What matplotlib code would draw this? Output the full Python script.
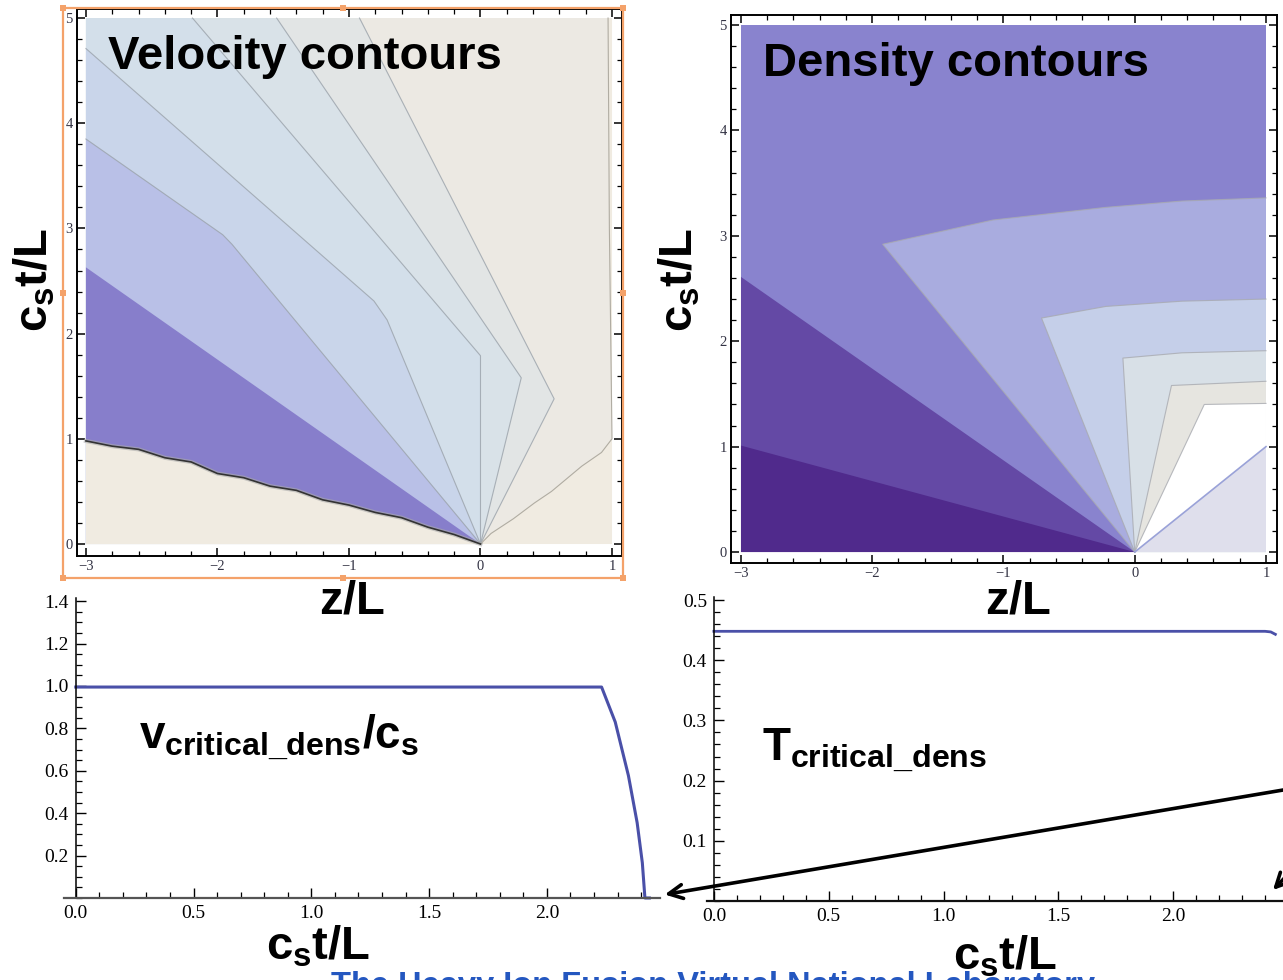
import matplotlib.pyplot as plt
from matplotlib.patches import Rectangle
from matplotlib.ticker import MultipleLocator, FormatStrFormatter

# domain of both contour maps (z/L, c_s t/L)
domain_z = [-3.0, 1.0]
domain_t = [0.0, 5.0]

# velocity contours: boundaries, each one runs into the origin
vel_jag_z = [-3.0, -2.8, -2.6, -2.4, -2.2, -2.0, -1.8, -1.6, -1.4, -1.2, -1.0, -0.8, -0.6, -0.4, -0.2, 0.0]
vel_jag_t = [0.98, 0.93, 0.90, 0.82, 0.78, 0.67, 0.63, 0.55, 0.51, 0.42, 0.37, 0.30, 0.25, 0.16, 0.09, 0.0]
vel_c2_z = [-3.0, 0.0]
vel_c2_t = [2.63, 0.0]
vel_c3_z = [-3.0, -1.96, -1.89, 0.0]
vel_c3_t = [3.85, 2.94, 2.85, 0.0]
vel_c4_z = [-3.0, -0.81, -0.71, 0.0]
vel_c4_t = [4.71, 2.31, 2.13, 0.0]
vel_c5_z = [-2.19, 0.0, 0.0]
vel_c5_t = [5.0, 1.79, 0.0]
vel_c6_z = [-1.55, 0.31, 0.0]
vel_c6_t = [5.0, 1.58, 0.0]
vel_c7_z = [-0.92, 0.56, 0.0]
vel_c7_t = [5.0, 1.38, 0.0]
vel_right_z = [0.0, 0.08, 0.25, 0.41, 0.54, 0.77, 0.92, 1.0, 0.98, 0.97]
vel_right_t = [0.0, 0.10, 0.24, 0.39, 0.50, 0.74, 0.87, 1.0, 3.0, 5.0]
vel_colors = ["#ece9e3", "#e2e5e5", "#d9e2e8", "#d3dfea", "#c9d5ea", "#b9c0e7", "#877ecb", "#f0ebe1"]

# density contours
den_d1_z = [-3.0, 0.0]
den_d1_t = [1.01, 0.0]
den_d2_z = [-3.0, 0.0]
den_d2_t = [2.61, 0.0]
den_c3_z = [0.0, -1.92, -1.08, -0.22, 0.36, 1.0]
den_c3_t = [0.0, 2.92, 3.15, 3.27, 3.33, 3.36]
den_c4_z = [0.0, -0.71, -0.22, 0.36, 1.0]
den_c4_t = [0.0, 2.22, 2.33, 2.38, 2.40]
den_c5_z = [0.0, -0.09, 0.36, 1.0]
den_c5_t = [0.0, 1.84, 1.89, 1.91]
den_c6_z = [0.0, 0.28, 1.0]
den_c6_t = [0.0, 1.58, 1.62]
den_c7_z = [0.0, 0.53, 1.0]
den_c7_t = [0.0, 1.40, 1.41]
den_c8_z = [0.0, 1.0]
den_c8_t = [0.0, 1.0]
den_colors = ["#8983ce", "#a9acdf", "#c5cfe9", "#d8e0e7", "#e6e5e0", "#ffffff", "#dfdfec", "#6449a5", "#502a8c"]

# critical-density traces vs c_s t/L
t_v = [0.0, 0.5, 1.0, 1.5, 2.0, 2.232, 2.29, 2.346, 2.383, 2.405, 2.416, 2.435]
v_crit = [0.995, 0.995, 0.995, 0.995, 0.995, 0.995, 0.83, 0.577, 0.355, 0.166, 0.0, 0.0]
t_T = [0.0, 0.5, 1.0, 1.5, 2.0, 2.4, 2.425, 2.445]
T_crit = [0.448, 0.448, 0.448, 0.448, 0.448, 0.448, 0.447, 0.443]
xticks_bottom = [0.0, 0.5, 1.0, 1.5, 2.0]

plt.rcParams["mathtext.fontset"] = "custom"
plt.rcParams["mathtext.rm"] = "Liberation Sans:bold"
plt.rcParams["mathtext.it"] = "Liberation Sans:bold"
plt.rcParams["mathtext.bf"] = "Liberation Sans:bold"

W, H = 1283, 980
fig = plt.figure(figsize=(W / 100, H / 100), dpi=100)


def px_axes(left, top, right, bottom):
    return fig.add_axes([left / W, 1 - bottom / H, (right - left) / W, (bottom - top) / H])


def contour_frame(ax, xlim, ylim):
    ax.set_xlim(*xlim)
    ax.set_ylim(*ylim)
    ax.set_xticks([-3, -2, -1, 0, 1])
    ax.set_yticks([0, 1, 2, 3, 4, 5])
    ax.xaxis.set_minor_locator(MultipleLocator(0.2))
    ax.yaxis.set_minor_locator(MultipleLocator(0.2))
    ax.tick_params(which="both", direction="in", top=True, right=True,
                   labelcolor="#333344", labelsize=10.5, pad=3)
    ax.tick_params(which="major", length=6, width=1.1)
    ax.tick_params(which="minor", length=3.5, width=0.9)
    for s in ax.spines.values():
        s.set_linewidth(1.4)
    for lab in ax.get_xticklabels() + ax.get_yticklabels():
        lab.set_fontfamily("Liberation Serif")


def fill_to(ax, zs, ts, corner_z, corner_t, color):
    ax.fill(list(zs) + corner_z, list(ts) + corner_t, color=color, lw=0)


# ---- velocity contours
ax1 = px_axes(77, 9, 622, 556)
contour_frame(ax1, (-3.068, 1.076), (-0.114, 5.086))
zl, zr = domain_z
tb, tt = domain_t
ax1.fill([zl, zr, zr, zl], [tb, tb, tt, tt], color=vel_colors[0], lw=0)
vel_lines = [(vel_c7_z, vel_c7_t), (vel_c6_z, vel_c6_t), (vel_c5_z, vel_c5_t),
             (vel_c4_z, vel_c4_t), (vel_c3_z, vel_c3_t), (vel_c2_z, vel_c2_t)]
for (zs, ts), col in zip(vel_lines, vel_colors[1:7]):
    fill_to(ax1, zs, ts, [zl, zl], [tb, tt], col)
fill_to(ax1, vel_jag_z, vel_jag_t, [zl], [tb], vel_colors[7])
fill_to(ax1, vel_right_z, vel_right_t, [zr, zr], [tt, tb], vel_colors[7])
for zs, ts in vel_lines[:5]:
    ax1.plot(zs, ts, color="#9aa2aa", lw=0.8, alpha=0.8)
ax1.plot(vel_right_z, vel_right_t, color="#b0aca2", lw=0.8)
ax1.plot(vel_jag_z, vel_jag_t, color="#aaaaaa", lw=3.0, alpha=0.6)
ax1.plot(vel_jag_z, vel_jag_t, color="#333333", lw=1.2)
ax1.text(-2.83, 4.63, "Velocity contours", fontsize=34, fontweight="bold",
         family="Liberation Sans", va="center", ha="left")

# ---- density contours
ax2 = px_axes(731, 15, 1277, 563)
contour_frame(ax2, (-3.076, 1.084), (-0.104, 5.095))
ax2.fill([zl, zr, zr, zl], [tb, tb, tt, tt], color=den_colors[0], lw=0)
den_lines = [(den_c3_z, den_c3_t), (den_c4_z, den_c4_t), (den_c5_z, den_c5_t),
             (den_c6_z, den_c6_t), (den_c7_z, den_c7_t), (den_c8_z, den_c8_t)]
for (zs, ts), col in zip(den_lines, den_colors[1:7]):
    fill_to(ax2, zs, ts, [zr], [tb], col)
fill_to(ax2, den_d2_z, den_d2_t, [zl], [tb], den_colors[7])
fill_to(ax2, den_d1_z, den_d1_t, [zl], [tb], den_colors[8])
for zs, ts in den_lines[:5]:
    ax2.plot(zs, ts, color="#a8aab0", lw=0.8, alpha=0.8)
ax2.plot(den_c8_z, den_c8_t, color="#9aa2d8", lw=1.2)
ax2.text(-2.83, 4.63, "Density contours", fontsize=34, fontweight="bold",
         family="Liberation Sans", va="center", ha="left")


def trace_axes(ax, xlim, ylim, yticks, yminor, color_x):
    ax.set_xlim(*xlim)
    ax.set_ylim(*ylim)
    ax.spines["left"].set_position(("data", 0))
    ax.spines["top"].set_visible(False)
    ax.spines["right"].set_visible(False)
    ax.spines["bottom"].set_color(color_x)
    ax.spines["bottom"].set_linewidth(1.6)
    ax.spines["left"].set_linewidth(1.1)
    ax.set_xticks(xticks_bottom)
    ax.set_yticks(yticks)
    ax.xaxis.set_minor_locator(MultipleLocator(0.1))
    ax.yaxis.set_minor_locator(MultipleLocator(yminor))
    ax.xaxis.set_major_formatter(FormatStrFormatter("%.1f"))
    ax.yaxis.set_major_formatter(FormatStrFormatter("%.1f"))
    ax.tick_params(which="both", direction="in", labelsize=14, pad=5)
    ax.tick_params(which="major", length=7, width=1.0)
    ax.tick_params(which="minor", length=4, width=0.9)
    for lab in ax.get_xticklabels() + ax.get_yticklabels():
        lab.set_fontfamily("Liberation Serif")
    ax.patch.set_alpha(0)


# ---- v_critical_dens
ax3 = px_axes(64, 598, 660, 898)
trace_axes(ax3, (-0.05, 2.48), (0, 1.415), [0.2, 0.4, 0.6, 0.8, 1.0, 1.2, 1.4], 0.05, "#555555")
ax3.plot(t_v, v_crit, color="#4a50a8", lw=2.2, clip_on=False)
ax3.text(0.27, 0.76, r"$v_{critical\_dens}/c_s$", fontsize=33, va="center", ha="left")

# ---- T_critical_dens
ax4 = px_axes(707, 597, 1288, 901)
trace_axes(ax4, (-0.03, 2.5), (0, 0.505), [0.1, 0.2, 0.3, 0.4, 0.5], 0.02, "#111111")
ax4.plot(t_T, T_crit, color="#4a50a8", lw=2.0)
ax4.text(0.21, 0.25, r"$T_{critical\_dens}$", fontsize=33, va="center", ha="left")

# ---- axis titles
lab = dict(fontsize=34, ha="center", va="center")
fig.text(35 / W, 1 - 280 / H, r"$c_st/L$", rotation=90, **lab)
fig.text(680 / W, 1 - 280 / H, r"$c_st/L$", rotation=90, **lab)
fig.text(352 / W, 1 - 601 / H, r"$z/L$", **lab)
fig.text(1018 / W, 1 - 601 / H, r"$z/L$", **lab)
fig.text(318 / W, 1 - 947 / H, r"$c_st/L$", **lab)
fig.text(1005 / W, 1 - 957 / H, r"$c_st/L$", **lab)

# ---- arrows pointing at the end of the traces
arrow = dict(arrowstyle="->, head_length=1.0, head_width=0.5", color="black", lw=2.6)
ax3.annotate("", xy=(662, H - 895), xycoords="figure pixels",
             xytext=(1295, H - 788), textcoords="figure pixels",
             arrowprops=arrow, annotation_clip=False)
ax3.annotate("", xy=(1271, H - 892), xycoords="figure pixels",
             xytext=(1300, H - 862), textcoords="figure pixels",
             arrowprops=arrow, annotation_clip=False)

# ---- selection box around the velocity map
fig.patches.append(Rectangle((63 / W, 1 - 578 / H), 560 / W, 570 / H, transform=fig.transFigure,
                             fill=False, ec="#f4a26a", lw=1.6))
for hx, hy in [(63, 8), (343, 8), (623, 8), (63, 293), (623, 293), (63, 578), (343, 578), (623, 578)]:
    fig.patches.append(Rectangle(((hx - 3) / W, 1 - (hy + 3) / H), 6 / W, 6 / H,
                                 transform=fig.transFigure, color="#f4a26a", lw=0))

fig.text(331 / W, 1 - 971 / H, "The Heavy Ion Fusion Virtual National Laboratory",
         color="#2457c0", fontsize=23.5, fontweight="bold", family="Liberation Sans",
         ha="left", va="top", zorder=0)

fig.savefig("out.png", dpi=100)
